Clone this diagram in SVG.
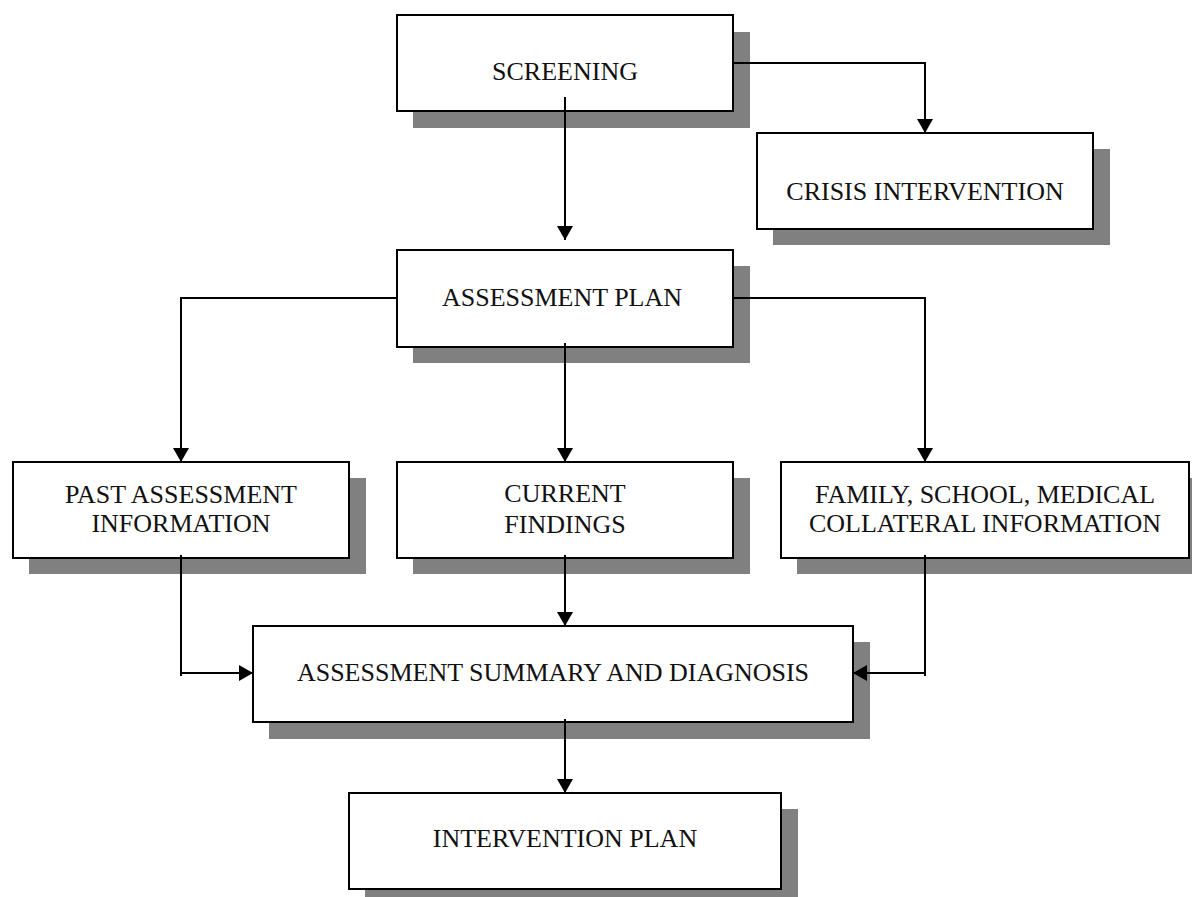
<svg xmlns="http://www.w3.org/2000/svg" width="1192" height="897" viewBox="0 0 1192 897">
<style>
.box{fill:#fff;stroke:#000;stroke-width:2}
.sh{fill:#808080}
.t{font-family:"Liberation Serif","Times New Roman",serif;font-size:26px;fill:#111;text-anchor:middle}
.c{fill:none;stroke:#000;stroke-width:2}
</style>
<defs>
<marker id="ah" viewBox="0 0 14 16" refX="14" refY="8" markerWidth="14" markerHeight="16" markerUnits="userSpaceOnUse" orient="auto">
<path d="M0,0 L14,8 L0,16 z" fill="#000"/>
</marker>
</defs>
<rect width="1192" height="897" fill="#fff"/>
<g id="screening">
<rect class="sh" x="413" y="32" width="337" height="96"/>
<rect class="box" x="397" y="15" width="336" height="96"/>
<text class="t" x="565" y="80">SCREENING</text>
</g>
<g id="crisis">
<rect class="sh" x="773" y="149" width="337" height="96"/>
<rect class="box" x="757" y="133" width="336" height="96"/>
<text class="t" x="925" y="200">CRISIS INTERVENTION</text>
</g>
<g id="assessment-plan">
<rect class="sh" x="413" y="266" width="337" height="97"/>
<rect class="box" x="397" y="250" width="336" height="97"/>
<text class="t" x="562" y="306">ASSESSMENT PLAN</text>
</g>
<g id="past">
<rect class="sh" x="29" y="478" width="337" height="96"/>
<rect class="box" x="13" y="462" width="336" height="96"/>
<text class="t" x="181" y="503">PAST ASSESSMENT</text>
<text class="t" x="181" y="532">INFORMATION</text>
</g>
<g id="current">
<rect class="sh" x="413" y="478" width="337" height="96"/>
<rect class="box" x="397" y="462" width="336" height="96"/>
<text class="t" x="565" y="502">CURRENT</text>
<text class="t" x="565" y="533">FINDINGS</text>
</g>
<g id="family">
<rect class="sh" x="797" y="478" width="400" height="96"/>
<rect class="box" x="781" y="462" width="408" height="96"/>
<text class="t" x="985" y="503">FAMILY, SCHOOL, MEDICAL</text>
<text class="t" x="985" y="532">COLLATERAL INFORMATION</text>
</g>
<g id="summary">
<rect class="sh" x="269" y="642" width="601" height="97"/>
<rect class="box" x="253" y="626" width="600" height="96"/>
<text class="t" x="553" y="681">ASSESSMENT SUMMARY AND DIAGNOSIS</text>
</g>
<g id="intervention">
<rect class="sh" x="365" y="809" width="433" height="96"/>
<rect class="box" x="349" y="793" width="432" height="96"/>
<text class="t" x="565" y="847">INTERVENTION PLAN</text>
</g>
<g id="connectors">
<path class="c" d="M565,97 L565,240" marker-end="url(#ah)"/>
<path class="c" d="M733,63 L925,63 L925,133" marker-end="url(#ah)"/>
<path class="c" d="M397,298 L181,298 L181,462" marker-end="url(#ah)"/>
<path class="c" d="M565,343 L565,462" marker-end="url(#ah)"/>
<path class="c" d="M733,298 L925,298 L925,462" marker-end="url(#ah)"/>
<path class="c" d="M181,555 L181,676"/>
<path class="c" d="M181,673 L253,673" marker-end="url(#ah)"/>
<path class="c" d="M565,555 L565,626" marker-end="url(#ah)"/>
<path class="c" d="M925,555 L925,676"/>
<path class="c" d="M925,673 L853,673" marker-end="url(#ah)"/>
<path class="c" d="M565,719 L565,793" marker-end="url(#ah)"/>
</g>
</svg>
